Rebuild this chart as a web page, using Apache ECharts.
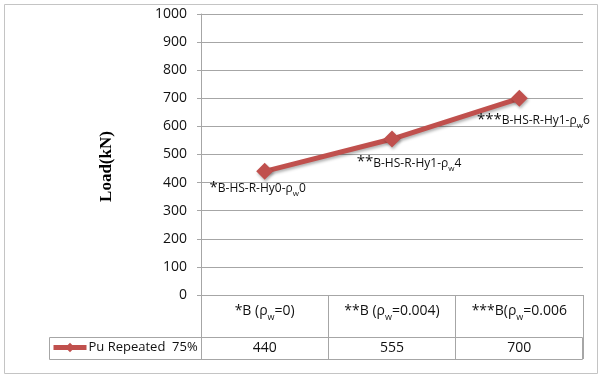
<!DOCTYPE html>
<html>
<head>
<meta charset="utf-8">
<script src="https://cdn.jsdelivr.net/npm/echarts@6/dist/echarts.min.js"></script>
<style>
  html, body { margin: 0; padding: 0; background: #fff; }
  #chart { width: 600px; height: 378px; }
</style>
</head>
<body>
<div id="chart"></div>
<script>
// categories: [prefix, subscript, suffix]
var categories = [
  ['*B (ρ', 'w', '=0)'],
  ['**B (ρ', 'w', '=0.004)'],
  ['***B(ρ', 'w', '=0.006']
]
var values = [440, 555, 700]
var seriesName = 'Pu Repeated  75%'
// point labels: [stars, text, subscript, suffix]
var pointLabels = [
  ['*', 'B-HS-R-Hy0-ρ', 'w', '0'],
  ['**', 'B-HS-R-Hy1-ρ', 'w', '4'],
  ['***', 'B-HS-R-Hy1-ρ', 'w', '6']
]
var yTicks = { min: 0, max: 1000, interval: 100 }

// label placement (layout only)
var labelOffsets = [[-7, -4], [17, 3], [14, 1]]

var font = '"Open Sans", sans-serif'
var gray = '#a6a6a6'
var red = '#C0504D'

var chart = echarts.init(document.getElementById('chart'))

var catNames = categories.map(function(c) { return c.join('') })

var seriesData = values.map(function(v, i) {
  var p = pointLabels[i]
  return {
    value: v,
    label: {
      offset: labelOffsets[i],
      formatter: '{a|' + p[0] + '}{t|' + p[1] + '}{s|' + p[2] + '}{t|' + p[3] + '}'
    }
  }
})

chart.setOption({
  animation: false,
  textStyle: { fontFamily: font },
  grid: { left: 201, right: 17, top: 14, bottom: 83 },
  legend: {
    left: 51,
    top: 341,
    padding: 0,
    itemWidth: 33,
    itemHeight: 12,
    itemGap: 2,
    lineStyle: { width: 5, color: red, shadowBlur: 0 },
    itemStyle: { color: red, shadowBlur: 0 },
    textStyle: { fontSize: 13, color: '#111', fontFamily: font, padding: [0, 0, 0, -3] },
    data: [seriesName]
  },
  xAxis: [
    {
      type: 'category',
      data: catNames,
      boundaryGap: true,
      axisLine: { show: true, lineStyle: { color: gray } },
      axisTick: { show: true, interval: 0, length: 64, lineStyle: { color: gray } },
      axisLabel: {
        interval: 0,
        margin: 9,
        formatter: function(val, idx) {
          var c = categories[idx]
          return '{n|' + c[0] + '}{s|' + c[1] + '}{n|' + c[2] + '}'
        },
        rich: {
          n: { fontSize: 14, color: '#111', fontFamily: font, lineHeight: 18, verticalAlign: 'top' },
          s: { fontSize: 9, color: '#111', fontFamily: font, lineHeight: 18, verticalAlign: 'top', padding: [9, 0, 0, 0] }
        }
      }
    },
    {
      type: 'category',
      position: 'bottom',
      data: values.map(String),
      boundaryGap: true,
      axisLine: { show: false },
      axisTick: { show: false },
      axisLabel: { interval: 0, margin: 46, fontSize: 14, color: '#111', fontFamily: font }
    }
  ],
  yAxis: {
    type: 'value',
    min: yTicks.min,
    max: yTicks.max,
    interval: yTicks.interval,
    name: 'Load(kN)',
    nameLocation: 'middle',
    nameGap: 86,
    nameTextStyle: {
      fontFamily: '"Liberation Serif", "Times New Roman", serif',
      fontWeight: 'bold',
      fontSize: 17,
      color: '#000',
      padding: [0, 24, 0, 0]
    },
    axisLine: { show: true, lineStyle: { color: gray } },
    axisTick: { show: true, length: 4, lineStyle: { color: gray } },
    axisLabel: {
      margin: 14,
      fontSize: 14,
      color: '#111',
      fontFamily: font,
      formatter: function(v) { return String(v) }
    },
    splitLine: { show: true, lineStyle: { color: gray } }
  },
  series: [
    {
      name: seriesName,
      type: 'line',
      data: seriesData,
      color: red,
      symbol: 'diamond',
      symbolSize: 17,
      lineStyle: {
        width: 5,
        color: red,
        shadowColor: 'rgba(0,0,0,0.3)',
        shadowBlur: 3,
        shadowOffsetX: 1,
        shadowOffsetY: 2
      },
      itemStyle: {
        color: red,
        shadowColor: 'rgba(0,0,0,0.3)',
        shadowBlur: 3,
        shadowOffsetX: 1,
        shadowOffsetY: 2
      },
      label: {
        show: true,
        position: 'bottom',
        distance: 4,
        rich: {
          a: { fontSize: 15, color: '#111', fontFamily: font, lineHeight: 16, verticalAlign: 'top' },
          t: { fontSize: 12, color: '#111', fontFamily: font, lineHeight: 16, verticalAlign: 'top', padding: [3, 0, 0, 0] },
          s: { fontSize: 8, color: '#111', fontFamily: font, lineHeight: 16, verticalAlign: 'top', padding: [10, 0, 0, 0] }
        }
      }
    }
  ],
  graphic: [
    {
      type: 'rect',
      shape: { x: 4.5, y: 4.5, width: 593, height: 369 },
      style: { fill: null, stroke: '#c4c4c4', lineWidth: 1 },
      silent: true
    },
    {
      type: 'rect',
      shape: { x: 49.5, y: 337.5, width: 533, height: 22 },
      style: { fill: null, stroke: gray, lineWidth: 1 },
      silent: true
    }
  ]
})
</script>
</body>
</html>
